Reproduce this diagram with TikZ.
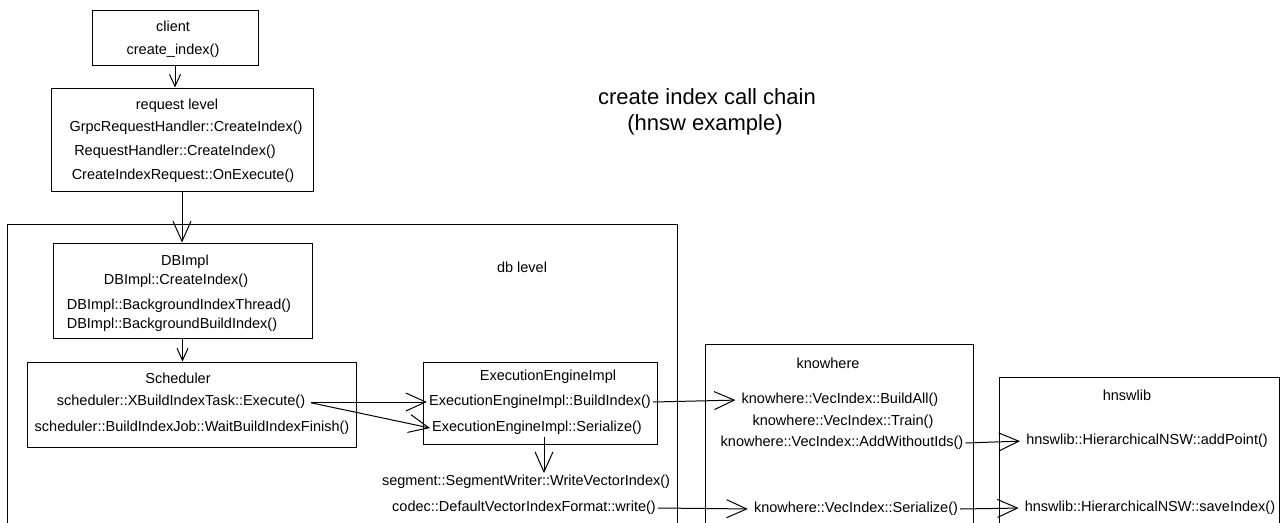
\documentclass[tikz,border=0pt]{standalone}
\usepackage{fontspec}
\setmainfont{Liberation Sans}
\usetikzlibrary{arrows.meta}
\tikzset{
  box/.style={draw, line width=1pt, inner sep=0pt},
  txt/.style={font=\fontsize{14.5}{16}\selectfont, inner sep=2pt},
  ttl/.style={font=\fontsize{22}{26}\selectfont, inner sep=2pt},
  arr/.style={-{Straight Barb[length=20pt,width=18pt,line width=1pt]}, line width=1pt},
  tarr/.style={arr, shorten >=4pt},
  sarr/.style={-{Straight Barb[length=12pt,width=11pt,line width=1pt]}, line width=1pt}
}
\begin{document}
\begin{tikzpicture}[x=1pt,y=-1pt]
\path[use as bounding box] (0,0) rectangle (1282,522);
\fill[white] (0,0) rectangle (1282,522);
\clip (0,0) rectangle (1282,522);

% boxes
\node[box, minimum width=166, minimum height=55] (client) at (175,37.5) {};
\node[box, minimum width=262, minimum height=103] (request) at (182,139.5) {};
\node[box, minimum width=670, minimum height=320] (db) at (342,384) {};
\node[box, minimum width=259, minimum height=95] (dbimpl) at (182.5,290.5) {};
\node[box, minimum width=329, minimum height=85] (sched) at (191.5,404.5) {};
\node[box, minimum width=234, minimum height=82] (ee) at (540,403) {};
\node[box, minimum width=268, minimum height=200] (know) at (839,444) {};
\node[box, minimum width=280, minimum height=170] (hnsw) at (1139,462) {};

% title
\node[ttl] (title1) at (707,97) {create index call chain};
\node[ttl] (title2) at (705,125) {(hnsw example)};

% client
\node[txt] (clientT) at (173,26) {client};
\node[txt] (createidx) at (173,51) {create\_index()};

% request level
\node[txt] (reqT) at (177,106) {request level};
\node[txt] (grpc) at (186,128) {GrpcRequestHandler::CreateIndex()};
\node[txt] (reqh) at (175,152) {RequestHandler::CreateIndex()};
\node[txt] (cir) at (183,176) {CreateIndexRequest::OnExecute()};

% db level
\node[txt] (dblevel) at (522,267) {db level};
\node[txt] (dbimplT) at (185,262) {DBImpl};
\node[txt] (dbci) at (176,281) {DBImpl::CreateIndex()};
\node[txt] (dbbit) at (179,306) {DBImpl::BackgroundIndexThread()};
\node[txt] (dbbbi) at (172,325) {DBImpl::BackgroundBuildIndex()};

% scheduler
\node[txt] (schedT) at (178,378) {Scheduler};
\node[txt] (exec) at (181,402) {scheduler::XBuildIndexTask::Execute()};
\node[txt] (wait) at (192,428) {scheduler::BuildIndexJob::WaitBuildIndexFinish()};

% execution engine
\node[txt] (eeT) at (548,377) {ExecutionEngineImpl};
\node[txt] (eebuild) at (540,402) {ExecutionEngineImpl::BuildIndex()};
\node[txt] (eeser) at (537,428) {ExecutionEngineImpl::Serialize()};
\node[txt] (seg) at (526,482) {segment::SegmentWriter::WriteVectorIndex()};
\node[txt] (codec) at (524,508) {codec::DefaultVectorIndexFormat::write()};

% knowhere
\node[txt] (knowT) at (828,363) {knowhere};
\node[txt] (buildall) at (840,400) {knowhere::VecIndex::BuildAll()};
\node[txt] (train) at (843,422) {knowhere::VecIndex::Train()};
\node[txt] (addw) at (842,443) {knowhere::VecIndex::AddWithoutIds()};
\node[txt] (kser) at (856,509) {knowhere::VecIndex::Serialize()};

% hnswlib
\node[txt] (hnswT) at (1127,395) {hnswlib};
\node[txt] (addp) at (1147,441) {hnswlib::HierarchicalNSW::addPoint()};
\node[txt] (savei) at (1150,508) {hnswlib::HierarchicalNSW::saveIndex()};

% connectors
\draw[sarr] (client.south) -- (client.south |- request.north);
\draw[arr] (request.south) -- (request.south |- dbimpl.north);
\draw[sarr] (dbimpl.south) -- (dbimpl.south |- sched.north);
\draw[arr, shorten <=4pt] (exec.east) -- (eebuild.west);
\draw[arr, shorten <=4pt] (exec.east) -- (eeser.west);
\draw[arr] ([xshift=7pt]eeser.south) -- ([xshift=7pt]eeser.south |- seg.north);
\draw[tarr] (eebuild.east) -- (buildall.west);
\draw[tarr] (codec.east) -- (kser.west);
\draw[tarr] (addw.east) -- (addp.west);
\draw[tarr] (kser.east) -- (savei.west);
\end{tikzpicture}
\end{document}
